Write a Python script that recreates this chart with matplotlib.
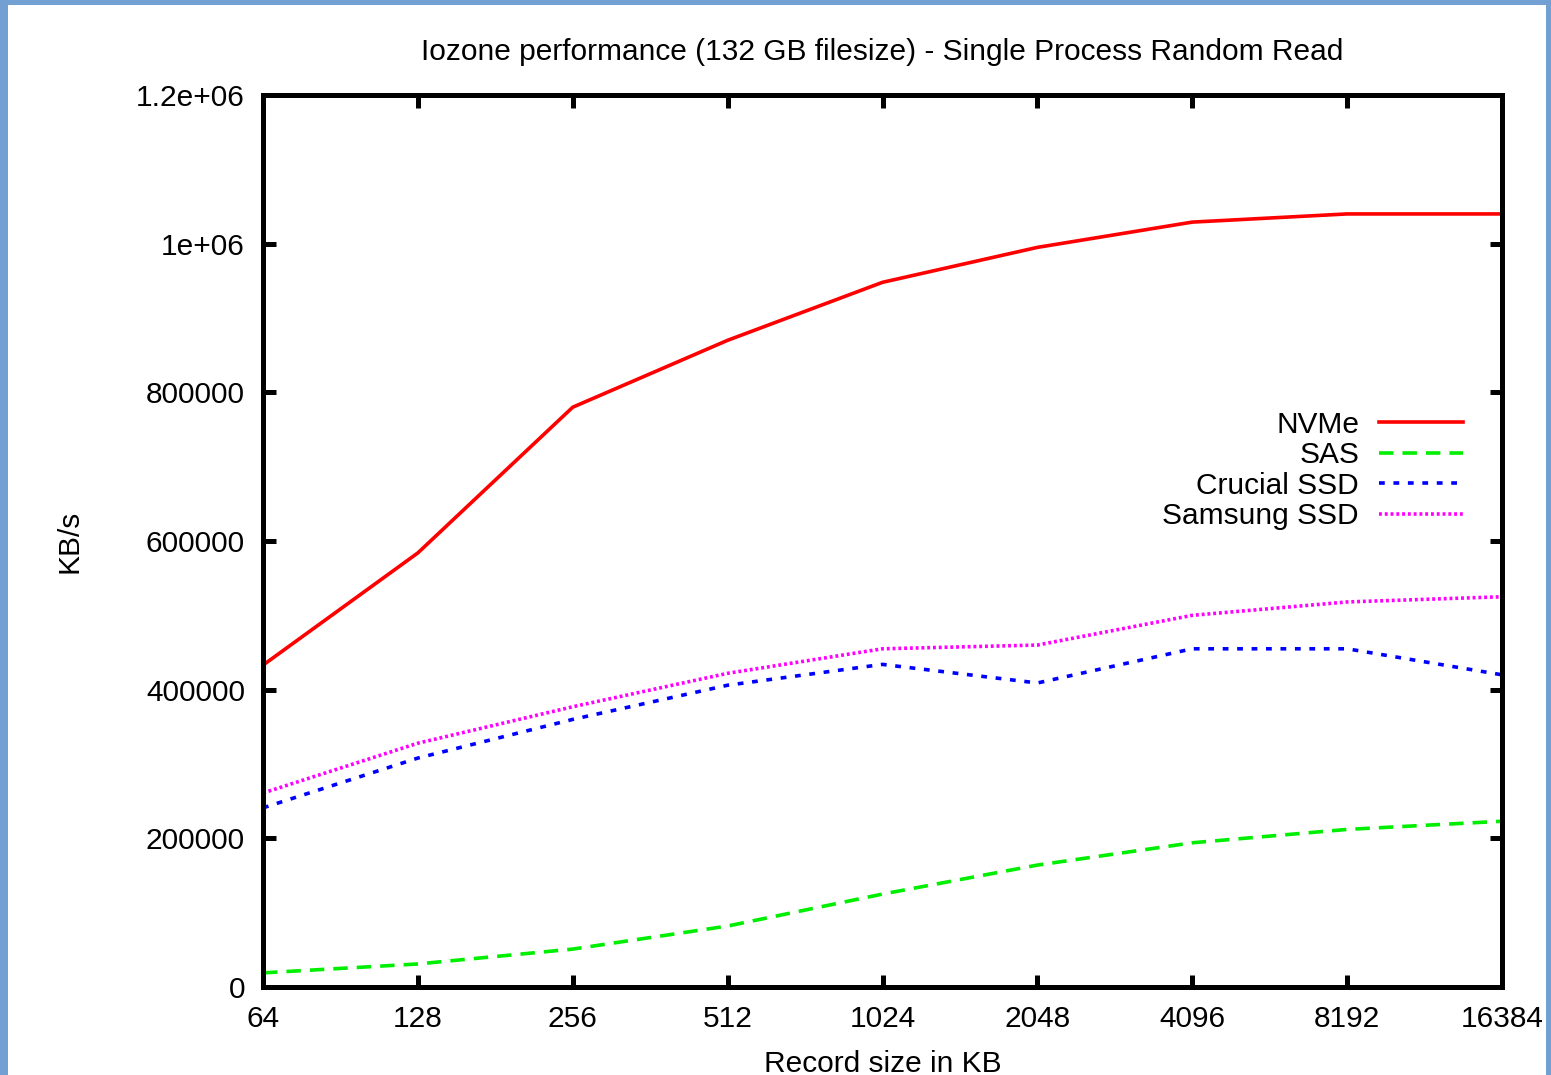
import matplotlib
matplotlib.use('Agg')
import matplotlib.pyplot as plt
from matplotlib.patches import Rectangle

plt.rcParams['font.family'] = ['Liberation Sans', 'DejaVu Sans']

record_sizes = [64, 128, 256, 512, 1024, 2048, 4096, 8192, 16384]
nvme = [433000, 584000, 780000, 870000, 948000, 995000, 1029000, 1040000, 1040000]
sas = [19000, 31000, 51000, 82000, 125000, 164000, 194000, 212000, 223000]
crucial = [241000, 308000, 360000, 406000, 434000, 409000, 455000, 455000, 420000]
samsung = [261000, 328000, 377000, 422000, 455000, 460000, 500000, 518000, 525000]

fig = plt.figure(figsize=(15.51, 10.75), dpi=100)
fig.patch.set_facecolor('#72a0d2')
# white page inside the blue frame
fig.patches.append(Rectangle((8 / 1551, 0), 1538 / 1551, 1070 / 1075,
                             transform=fig.transFigure, facecolor='white',
                             edgecolor='none', zorder=-10))

ax = fig.add_axes([263 / 1551, 1 - 987 / 1075, 1239 / 1551, 892 / 1075])
ax.set_xscale('log', base=2)

ax.plot(record_sizes, nvme, color='#ff0000', lw=2.6, label='NVMe')
ax.plot(record_sizes, sas, color='#00ee00', lw=2.6, dashes=(4, 2.5), label='SAS')
ax.plot(record_sizes, crucial, color='#0000ff', lw=2.6, dashes=(1.6, 2.4), label='Crucial SSD')
ax.plot(record_sizes, samsung, color='#ff00ff', lw=2.6, dashes=(0.8, 0.8), label='Samsung SSD')

ax.set_xlim(64, 16384)
ax.set_ylim(0, 1200000)
ax.set_xticks(record_sizes)
ax.set_xticklabels([str(r) for r in record_sizes])
ax.xaxis.set_minor_locator(matplotlib.ticker.NullLocator())
yt = [0, 200000, 400000, 600000, 800000, 1000000, 1200000]
ax.set_yticks(yt)
ax.set_yticklabels(['0', '200000', '400000', '600000', '800000', '1e+06', '1.2e+06'])

for s in ax.spines.values():
    s.set_linewidth(3.6)
ax.tick_params(direction='in', length=9, width=3.6, labelsize=21.5,
               top=True, right=True, pad=13)

ax.set_title('Iozone performance (132 GB filesize) - Single Process Random Read',
             fontsize=21.5, pad=25)
ax.set_xlabel('Record size in KB', fontsize=21.5, labelpad=12)
ax.set_ylabel('KB/s', fontsize=21.5, labelpad=38)

leg = ax.legend(loc='upper right', bbox_to_anchor=(0.99, 0.676), frameon=False,
                markerfirst=False, fontsize=21.5, handlelength=2.8,
                labelspacing=0.08, handletextpad=0.67)

fig.savefig('out.png', dpi=100)
